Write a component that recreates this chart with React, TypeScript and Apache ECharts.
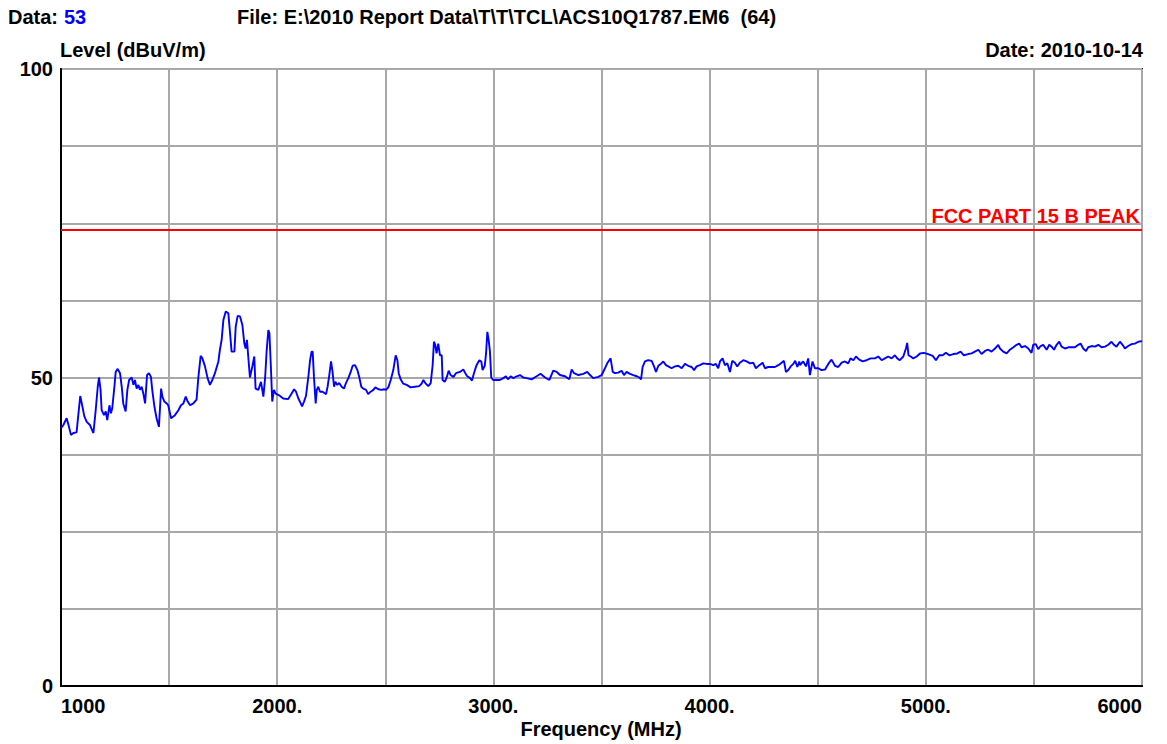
import React, { useEffect, useRef } from "react";
import * as echarts from "echarts";

const FREQ_MHZ: number[] = [
  1000, 1011, 1026, 1037, 1046, 1057, 1072, 1080, 1089, 1099, 1108, 1119, 1134, 1150, 1160, 1170, 1176, 1183, 1188, 1199,
  1207, 1214, 1224, 1231, 1237, 1247, 1253, 1262, 1273, 1281, 1288, 1299, 1307, 1315, 1327, 1335, 1342, 1350, 1358, 1365,
  1373, 1381, 1389, 1398, 1407, 1416, 1422, 1432, 1442, 1453, 1463, 1469, 1478, 1489, 1496, 1509, 1527, 1543, 1555, 1566,
  1577, 1586, 1597, 1612, 1627, 1635, 1646, 1654, 1666, 1678, 1689, 1700, 1712, 1728, 1735, 1743, 1751, 1762, 1774, 1782,
  1789, 1802, 1808, 1817, 1828, 1839, 1848, 1854, 1860, 1866, 1874, 1885, 1894, 1900, 1913, 1925, 1936, 1944, 1951, 1959,
  1964, 1971, 1977, 1985, 1993, 2005,
  2013, 2028, 2051, 2067, 2078, 2087, 2098, 2109, 2115, 2124, 2133, 2144, 2152, 2159, 2164, 2170, 2178, 2183, 2190, 2198,
  2210, 2226, 2233, 2241, 2249, 2256, 2263, 2269, 2278, 2287, 2298, 2309, 2318, 2329, 2340, 2349, 2360, 2371, 2380, 2389,
  2398, 2411, 2421, 2432, 2445, 2454, 2468, 2483, 2494, 2503, 2514, 2525, 2537, 2548, 2556, 2562, 2571, 2583, 2599, 2617,
  2637, 2657, 2668, 2676, 2685, 2699, 2710, 2719, 2725, 2731, 2737, 2745, 2753, 2761, 2765, 2775, 2784, 2793, 2802, 2815,
  2827, 2845, 2861, 2870, 2879, 2892, 2901, 2910, 2922, 2935, 2944, 2950, 2960, 2966, 2972, 2978, 2984, 2990, 2999, 3015,
  3030, 3046, 3058, 3067, 3080, 3092, 3108,
  3123, 3138, 3154, 3177, 3200, 3218, 3239, 3259, 3277, 3293, 3308, 3331, 3351, 3362, 3373, 3393, 3416, 3434, 3447, 3462,
  3485, 3501, 3516, 3528, 3542, 3552, 3562, 3578, 3593, 3604, 3616, 3632, 3647, 3663, 3675, 3683, 3690, 3701, 3716, 3732,
  3743, 3752, 3763, 3774, 3786, 3798, 3809, 3824, 3840, 3855, 3871, 3886, 3901, 3917, 3928, 3940, 3955, 3971, 3986, 4002,
  4017, 4029, 4040, 4048, 4060, 4071, 4082, 4094, 4105, 4117, 4128, 4140, 4156, 4171, 4187, 4202, 4214, 4230, 4245, 4256,
  4271, 4287, 4302, 4318, 4333, 4344, 4353, 4364, 4375, 4387, 4396, 4406, 4415,
  4418, 4433, 4446, 4456, 4464, 4476, 4487, 4503, 4518, 4534, 4549, 4564, 4580, 4595, 4611, 4626, 4641, 4652, 4665, 4677,
  4692, 4708, 4726, 4745, 4765, 4780, 4796, 4811, 4826, 4842, 4857, 4868, 4880, 4896, 4908, 4914, 4920, 4930, 4942, 4958,
  4973, 4991, 5011, 5032, 5047, 5062, 5078, 5093, 5109, 5127, 5146, 5161, 5176, 5196, 5212, 5227, 5243, 5258, 5274, 5289,
  5304, 5320, 5335, 5343, 5358, 5374, 5389, 5405, 5420, 5432, 5443, 5459, 5474, 5489, 5497, 5509, 5520, 5531, 5543, 5559,
  5571, 5582, 5593, 5605, 5617, 5628, 5644, 5659, 5674, 5690, 5705, 5716, 5728, 5741, 5751, 5767, 5782, 5798, 5813, 5829,
  5844, 5859, 5870, 5882, 5898, 5910, 5921, 5936, 5952, 5967, 5983, 6000,
];

const LEVEL_DBUV: number[] = [
  41.8, 42.3, 43.4, 42.0, 40.7, 41.0, 41.1, 43.9, 47.0, 45.3, 43.7, 42.8, 42.3, 41.0, 44.5, 48.5, 50.0, 48.0, 44.7, 43.9,
  44.5, 43.1, 45.5, 44.2, 45.0, 48.5, 50.9, 51.4, 50.7, 48.5, 45.8, 44.5, 48.0, 49.6, 50.0, 48.8, 49.6, 48.2, 48.8, 48.0,
  48.5, 47.4, 45.8, 50.4, 50.7, 50.1, 48.0, 45.3, 43.4, 42.0, 48.2, 46.9, 46.1, 45.8, 45.5, 43.4, 43.9, 44.7, 45.5, 45.8,
  46.9, 46.1, 45.5, 45.8, 46.4, 49.9, 53.5, 53.1, 51.8, 49.9, 48.8, 49.6, 50.7, 52.6, 54.5, 56.1, 59.3, 60.7, 60.4, 57.2,
  54.2, 54.2, 58.2, 60.0, 59.9, 58.5, 55.5, 54.7, 56.1, 53.4, 50.0, 51.8, 53.4, 48.2, 48.0, 49.3, 46.9, 49.9, 54.2, 57.7,
  57.2, 51.5, 46.1, 48.0, 47.4, 47.2,
  47.0, 46.6, 46.5, 47.4, 48.1, 47.7, 46.6, 45.8, 45.3, 46.1, 47.0, 50.1, 52.8, 54.2, 54.2, 50.1, 45.8, 48.0, 48.5, 47.7,
  47.7, 47.3, 48.5, 50.4, 52.6, 50.9, 48.5, 49.3, 48.8, 49.1, 48.5, 48.2, 49.1, 49.9, 50.9, 51.9, 52.0, 51.2, 50.0, 48.5,
  48.2, 48.0, 47.3, 47.7, 48.0, 48.4, 48.1, 48.0, 48.1, 48.0, 48.4, 49.6, 51.2, 53.6, 52.8, 50.7, 49.7, 49.0, 48.8, 48.4,
  48.5, 48.6, 49.0, 49.6, 49.1, 48.6, 49.1, 52.0, 55.8, 55.3, 53.9, 55.5, 53.6, 53.6, 49.6, 49.3, 50.0, 51.1, 50.4, 50.1,
  50.7, 50.9, 51.3, 50.7, 50.2, 49.9, 49.5, 50.7, 52.0, 52.8, 52.6, 51.2, 51.9, 53.9, 57.4, 56.1, 54.2, 50.0, 49.6, 49.6,
  49.6, 49.9, 50.2, 49.7, 50.2, 49.9, 50.2,
  50.4, 50.0, 49.9, 49.7, 50.2, 50.6, 50.0, 49.6, 51.1, 50.9, 50.4, 50.2, 49.7, 51.3, 50.7, 50.4, 50.6, 50.9, 50.4, 49.9,
  50.1, 50.4, 51.5, 52.4, 53.1, 50.9, 50.7, 50.8, 51.1, 50.4, 50.9, 50.6, 50.4, 50.2, 50.0, 49.7, 51.7, 52.6, 52.8, 52.7,
  51.8, 50.9, 51.9, 52.2, 52.6, 52.0, 51.8, 51.5, 51.8, 51.9, 51.5, 52.2, 51.9, 51.7, 51.2, 51.8, 52.0, 52.3, 52.2, 52.2,
  52.0, 52.2, 51.5, 52.6, 53.1, 52.0, 52.3, 50.9, 52.7, 52.4, 51.8, 52.4, 52.8, 52.6, 52.3, 52.4, 51.5, 52.0, 52.4, 51.5,
  51.7, 51.7, 51.7, 52.0, 52.4, 52.7, 50.9, 51.2, 51.8, 52.2, 52.7, 51.7, 52.6,
  52.0, 52.6, 51.8, 53.1, 50.4, 52.6, 51.5, 51.5, 51.2, 51.3, 52.2, 52.9, 51.9, 51.7, 52.4, 52.6, 52.3, 53.1, 52.8, 53.4,
  52.9, 52.6, 52.8, 53.1, 53.1, 53.4, 52.8, 53.1, 53.4, 53.1, 53.6, 53.1, 52.8, 53.4, 54.7, 55.6, 53.6, 53.4, 53.1, 53.4,
  53.9, 54.0, 53.8, 53.5, 52.8, 53.6, 53.6, 54.0, 53.6, 53.8, 53.9, 54.2, 53.6, 53.8, 53.9, 54.2, 54.5, 53.8, 54.3, 54.5,
  54.2, 54.7, 55.3, 54.7, 54.2, 53.9, 54.5, 54.9, 55.3, 55.5, 54.9, 55.1, 54.7, 54.0, 55.3, 55.4, 54.6, 55.1, 55.3, 54.5,
  55.3, 55.0, 54.5, 55.3, 55.8, 55.0, 54.7, 54.9, 54.9, 54.9, 55.3, 55.5, 54.7, 54.3, 54.9, 55.1, 55.0, 55.3, 54.9, 55.0,
  55.3, 55.8, 55.3, 55.0, 55.8, 55.3, 54.7, 55.1, 55.4, 55.5, 55.8, 55.9,
];

const LIMIT_LEVEL = 74;
const LIMIT_NAME = "FCC PART 15 B PEAK";
const X_MIN = 1000;
const X_MAX = 6000;
const X_LABELED_TICKS = [1000, 2000, 3000, 4000, 5000, 6000];
const Y_LABELED_TICKS = [0, 50, 100];

const FONT = '"Liberation Sans", Arial, Helvetica, sans-serif';

export default function App() {
  const ref = useRef<HTMLDivElement>(null);

  useEffect(() => {
    if (!ref.current) return;
    const chart = echarts.init(ref.current, null, { renderer: "svg" });
    const data = FREQ_MHZ.map((f, i) => [f, LEVEL_DBUV[i]]);
    const txt = (text: string, x: number, y: number, align: string, fill = "#000") => ({
      type: "text",
      x,
      y,
      style: {
        text,
        fill,
        font: `bold 20px ${FONT}`,
        textAlign: align,
        textVerticalAlign: "middle",
      },
    });
    chart.setOption({
      animation: false,
      backgroundColor: "#fff",
      grid: {
        left: 61,
        right: 25,
        top: 69,
        bottom: 58,
        show: true,
        borderColor: "#222",
        borderWidth: 2,
        backgroundColor: "transparent",
      },
      xAxis: {
        type: "value",
        min: X_MIN,
        max: X_MAX,
        interval: 500,
        axisLine: { show: true, lineStyle: { color: "#000", width: 2 } },
        axisTick: { show: false },
        splitLine: { show: true, lineStyle: { color: "#a8a8a8", width: 2 } },
        axisLabel: {
          margin: 10,
          color: "#000",
          fontFamily: FONT,
          fontWeight: "bold",
          fontSize: 20,
          showMinLabel: true,
          showMaxLabel: true,
          alignMinLabel: "left",
          alignMaxLabel: "right",
          formatter: (v: number) => {
            if (!X_LABELED_TICKS.includes(v)) return "";
            if (v === X_MIN || v === X_MAX) return String(v);
            return v + ".";
          },
        },
      },
      yAxis: {
        type: "value",
        min: 0,
        max: 100,
        interval: 12.5,
        axisLine: { show: true, lineStyle: { color: "#000", width: 2 } },
        axisTick: { show: false },
        splitLine: { show: true, lineStyle: { color: "#a8a8a8", width: 2 } },
        axisLabel: {
          margin: 8,
          color: "#000",
          fontFamily: FONT,
          fontWeight: "bold",
          fontSize: 20,
          formatter: (v: number) => (Y_LABELED_TICKS.includes(v) ? String(v) : ""),
        },
      },
      series: [
        {
          type: "line",
          name: "Level",
          data,
          showSymbol: false,
          symbol: "none",
          lineStyle: { color: "#0000ff", width: 1.9 },
          z: 5,
          markLine: {
            silent: true,
            symbol: "none",
            data: [{ yAxis: LIMIT_LEVEL }],
            lineStyle: { color: "#ff0000", width: 2, type: "solid" },
            label: {
              show: true,
              position: "insideEndTop",
              formatter: LIMIT_NAME,
              color: "#ff0000",
              fontFamily: FONT,
              fontWeight: "bold",
              fontSize: 20,
              distance: [2, 3],
            },
          },
        },
      ],
      graphic: [
        txt("Data:", 8, 17, "left"),
        txt("53", 64, 17, "left", "#0000ff"),
        txt("File: E:\\2010 Report Data\\T\\T\\TCL\\ACS10Q1787.EM6  (64)", 237, 17, "left"),
        txt("Level (dBuV/m)", 60, 50, "left"),
        txt("Date: 2010-10-14", 1143, 50, "right"),
        txt("Frequency (MHz)", 601, 729, "center"),
      ],
    });
    return () => chart.dispose();
  }, []);

  return (
    <div
      ref={ref}
      style={{ position: "fixed", left: 0, top: 0, width: 1167, height: 744, background: "#fff" }}
    />
  );
}
